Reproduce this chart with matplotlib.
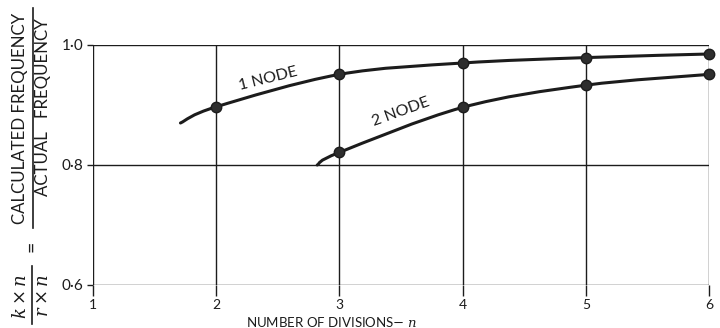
import numpy as np
import matplotlib
matplotlib.use('Agg')
import matplotlib.pyplot as plt
from matplotlib.path import Path
from matplotlib.patches import PathPatch
from matplotlib.lines import Line2D

plt.rcParams['font.family'] = ['Lato', 'DejaVu Sans']
plt.rcParams['mathtext.fontset'] = 'dejavuserif'

# frequency ratio against number of divisions
divisions = [2, 3, 4, 5, 6]
node1_ratio = [0.897, 0.951, 0.970, 0.979, 0.985]
node1_start = (1.71, 0.870)   # where the drawn curve begins

divisions2 = [3, 4, 5, 6]
node2_ratio = [0.821, 0.896, 0.933, 0.951]
node2_start = (2.82, 0.800)

x_ticks = [1, 2, 3, 4, 5, 6]
y_ticks = [0.6, 0.8, 1.0]
y_tick_labels = ['0·6', '0·8', '1·0']

INK = '#1c1c1c'


def smooth_path(xs, ys):
    # cubic Bezier pieces through every point (Catmull-Rom tangents)
    pts = np.column_stack([xs, ys])
    verts = [pts[0]]
    codes = [Path.MOVETO]
    for i in range(len(pts) - 1):
        p0 = pts[i - 1] if i > 0 else pts[i]
        p1, p2 = pts[i], pts[i + 1]
        p3 = pts[i + 2] if i + 2 < len(pts) else pts[i + 1]
        verts += [p1 + (p2 - p0) / 6, p2 - (p3 - p1) / 6, p2]
        codes += [Path.CURVE4] * 3
    return Path(verts, codes)


fig = plt.figure(figsize=(7.2, 3.28), dpi=100)
ax = fig.add_axes([93 / 720, 43 / 328, 616 / 720, 240 / 328])
ax.set_xlim(1, 6)
ax.set_ylim(0.6, 1.0)

# grid lines at every division and every 0.2
for x in x_ticks:
    ax.axvline(x, color=INK, lw=1.0, zorder=1)
for y in y_ticks:
    ax.axhline(y, color=INK, lw=1.0, zorder=1)
for s in ax.spines.values():
    s.set_visible(False)

ax.set_xticks(x_ticks)
ax.set_yticks(y_ticks)
ax.set_yticklabels(y_tick_labels)
ax.tick_params(axis='x', direction='out', length=8, width=1.0, color=INK,
               pad=2, labelsize=10, labelcolor=INK)
ax.tick_params(axis='y', direction='out', length=4, width=1.0, color=INK,
               pad=3, labelsize=11, labelcolor=INK)

# the two curves
for start, xs, ys in [(node1_start, divisions, node1_ratio),
                      (node2_start, divisions2, node2_ratio)]:
    path = smooth_path([start[0]] + xs, [start[1]] + ys)
    ax.add_patch(PathPatch(path, facecolor='none', edgecolor=INK, lw=2.2,
                           capstyle='round', zorder=3, clip_on=False))
    ax.plot(xs, ys, 'o', ms=7.5, mfc='#2e2e2e', mec=INK, mew=1.0,
            zorder=4, clip_on=False)

ax.text(2.42, 0.944, '1 NODE', rotation=14, ha='center', va='center',
        fontsize=11.5, color=INK, rotation_mode='anchor')
ax.text(3.50, 0.889, '2 NODE', rotation=20, ha='center', va='center',
        fontsize=11.5, color=INK, rotation_mode='anchor')

fig.text(331 / 720, 1 - 322 / 328, r'NUMBER OF DIVISIONS$-$ $n$',
         ha='center', va='center', fontsize=9.5, color=INK)

# y-axis title built as two stacked fractions, turned on its side
fig.text(20 / 720, 1 - 13 / 328, 'CALCULATED FREQUENCY', rotation=90,
         ha='center', va='top', fontsize=12.2, color=INK)
fig.text(43 / 720, 1 - 18 / 328, 'ACTUAL   FREQUENCY', rotation=90,
         ha='center', va='top', fontsize=12.2, color=INK)
fig.add_artist(Line2D([33 / 720, 33 / 720], [1 - 8 / 328, 1 - 228 / 328],
                      color=INK, lw=1.2, transform=fig.transFigure))
fig.text(32 / 720, 1 - 246 / 328, '=', rotation=90, ha='center',
         va='center', fontsize=14, color=INK)
fig.text(20 / 720, 1 - 296 / 328, r'$k\times n$', rotation=90,
         ha='center', va='center', fontsize=13, color=INK)
fig.text(43 / 720, 1 - 296 / 328, r'$r\times n$', rotation=90,
         ha='center', va='center', fontsize=13, color=INK)
fig.add_artist(Line2D([32 / 720, 32 / 720], [1 - 266 / 328, 1 - 324 / 328],
                      color=INK, lw=1.2, transform=fig.transFigure))

fig.savefig('out.png', dpi=100, facecolor='white')
